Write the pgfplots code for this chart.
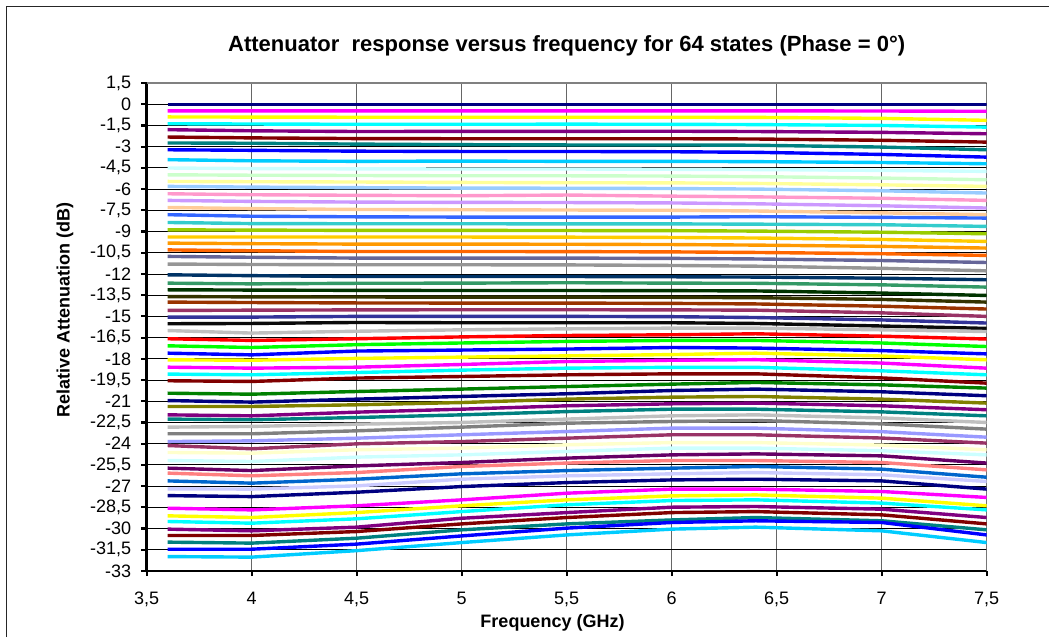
\documentclass[border=0pt]{standalone}
\usepackage{pgfplots}
\pgfplotsset{compat=1.18}
\usepackage{fontspec}
\setmainfont{Liberation Sans}
% Excel 2003 default series colours
\definecolor{c1}{HTML}{000080}\definecolor{c2}{HTML}{FF00FF}\definecolor{c3}{HTML}{FFFF00}\definecolor{c4}{HTML}{00FFFF}
\definecolor{c5}{HTML}{800080}\definecolor{c6}{HTML}{800000}\definecolor{c7}{HTML}{008080}\definecolor{c8}{HTML}{0000FF}
\definecolor{c9}{HTML}{00CCFF}\definecolor{c10}{HTML}{CCFFFF}\definecolor{c11}{HTML}{CCFFCC}\definecolor{c12}{HTML}{FFFF99}
\definecolor{c13}{HTML}{99CCFF}\definecolor{c14}{HTML}{FF99CC}\definecolor{c15}{HTML}{CC99FF}\definecolor{c16}{HTML}{FFCC99}
\definecolor{c17}{HTML}{3366FF}\definecolor{c18}{HTML}{33CCCC}\definecolor{c19}{HTML}{99CC00}\definecolor{c20}{HTML}{FFCC00}
\definecolor{c21}{HTML}{FF9900}\definecolor{c22}{HTML}{FF6600}\definecolor{c23}{HTML}{666699}\definecolor{c24}{HTML}{969696}
\definecolor{c25}{HTML}{003366}\definecolor{c26}{HTML}{339966}\definecolor{c27}{HTML}{003300}\definecolor{c28}{HTML}{333300}
\definecolor{c29}{HTML}{993300}\definecolor{c30}{HTML}{993366}\definecolor{c31}{HTML}{333399}\definecolor{c32}{HTML}{0A0A0A}
\definecolor{c33}{HTML}{C0C0C0}\definecolor{c34}{HTML}{FF0000}\definecolor{c35}{HTML}{00FF00}\definecolor{c36}{HTML}{0000FF}
\definecolor{c37}{HTML}{FFFF00}\definecolor{c38}{HTML}{FF00FF}\definecolor{c39}{HTML}{00FFFF}\definecolor{c40}{HTML}{800000}
\definecolor{c41}{HTML}{008000}\definecolor{c42}{HTML}{000080}\definecolor{c43}{HTML}{808000}\definecolor{c44}{HTML}{800080}
\definecolor{c45}{HTML}{008080}\definecolor{c46}{HTML}{C0C0C0}\definecolor{c47}{HTML}{808080}\definecolor{c48}{HTML}{9999FF}
\definecolor{c49}{HTML}{993366}\definecolor{c50}{HTML}{FFFFCC}\definecolor{c51}{HTML}{CCFFFF}\definecolor{c52}{HTML}{660066}
\definecolor{c53}{HTML}{FF8080}\definecolor{c54}{HTML}{0066CC}\definecolor{c55}{HTML}{CCCCFF}\definecolor{c56}{HTML}{000080}
\definecolor{c57}{HTML}{FF00FF}\definecolor{c58}{HTML}{FFFF00}\definecolor{c59}{HTML}{00FFFF}\definecolor{c60}{HTML}{800080}
\definecolor{c61}{HTML}{800000}\definecolor{c62}{HTML}{008080}\definecolor{c63}{HTML}{0000FF}\definecolor{c64}{HTML}{00CCFF}
% one state: attenuation at 3.6, 4.0, 4.5, 5.0, 5.5, 6.0, 6.4, 7.0, 7.5 GHz
\newcommand\ser[9]{\addplot coordinates {(3.6,#1)(4.0,#2)(4.5,#3)(5.0,#4)(5.5,#5)(6.0,#6)(6.4,#7)(7.0,#8)(7.5,#9)};}
\begin{document}
\begin{tikzpicture}
\useasboundingbox (-73.35pt,-33pt) rectangle (451.15pt,285.5pt);
\draw[line width=0.5pt,black!85] (-69.85pt,-33pt) -- (-69.85pt,282pt) -- (451.15pt,282pt);
\begin{axis}[
  scale only axis, width=420pt, height=244pt,
  xmin=3.5, xmax=7.5, ymin=-33, ymax=1.5,
  xtick={3.5,4,4.5,5,5.5,6,6.5,7,7.5},
  ytick={-33,-31.5,-30,-28.5,-27,-25.5,-24,-22.5,-21,-19.5,-18,-16.5,-15,-13.5,-12,-10.5,-9,-7.5,-6,-4.5,-3,-1.5,0,1.5},
  axis x line*=bottom, axis y line*=left,
  axis line style={black,line width=1.3pt,-},
  tick align=outside, major tick length=2.6pt,
  tick style={black,line width=1.1pt},
  xmajorgrids, ymajorgrids,
  x grid style={black!60,line width=0.7pt},
  y grid style={black,line width=0.45pt},
  /pgf/number format/assume math mode=true,
  /pgf/number format/use comma,
  ticklabel style={font=\fontsize{9}{10.5}\selectfont},
  yticklabel style={anchor=east,xshift=-1.6pt},
  xticklabel style={yshift=-4.2pt},
  every axis plot/.append style={line width=1.7pt, no marks, solid},
  cycle list={{c1},{c2},{c3},{c4},{c5},{c6},{c7},{c8},{c9},{c10},{c11},{c12},{c13},{c14},{c15},{c16},
    {c17},{c18},{c19},{c20},{c21},{c22},{c23},{c24},{c25},{c26},{c27},{c28},{c29},{c30},{c31},{c32},
    {c33},{c34},{c35},{c36},{c37},{c38},{c39},{c40},{c41},{c42},{c43},{c44},{c45},{c46},{c47},{c48},
    {c49},{c50},{c51},{c52},{c53},{c54},{c55},{c56},{c57},{c58},{c59},{c60},{c61},{c62},{c63},{c64}},
]
\draw[black!50,line width=0.6pt] (rel axis cs:0,1) -- (rel axis cs:1,1) -- (rel axis cs:1,0);
\ser{0}{0}{0}{0}{0}{0}{0}{0}{0}
\ser{-0.47}{-0.47}{-0.47}{-0.47}{-0.47}{-0.47}{-0.47}{-0.48}{-0.5}
\ser{-0.9}{-0.91}{-0.92}{-0.92}{-0.92}{-0.92}{-0.93}{-1.0}{-1.14}
\ser{-1.38}{-1.40}{-1.42}{-1.42}{-1.41}{-1.42}{-1.44}{-1.5}{-1.62}
\ser{-1.8}{-1.88}{-1.93}{-1.92}{-1.92}{-1.91}{-1.93}{-1.99}{-2.09}
\ser{-2.32}{-2.38}{-2.43}{-2.44}{-2.44}{-2.44}{-2.46}{-2.55}{-2.68}
\ser{-2.74}{-2.76}{-2.82}{-2.86}{-2.88}{-2.88}{-2.9}{-3.03}{-3.22}
\ser{-3.22}{-3.26}{-3.32}{-3.34}{-3.34}{-3.36}{-3.4}{-3.55}{-3.74}
\ser{-3.92}{-4.0}{-4.04}{-4.02}{-4.04}{-4.04}{-4.06}{-4.12}{-4.21}
\ser{-4.51}{-4.55}{-4.57}{-4.58}{-4.58}{-4.6}{-4.62}{-4.68}{-4.75}
\ser{-4.99}{-5.02}{-5.04}{-5.06}{-5.06}{-5.08}{-5.12}{-5.22}{-5.34}
\ser{-5.46}{-5.48}{-5.5}{-5.53}{-5.55}{-5.56}{-5.6}{-5.7}{-5.81}
\ser{-5.81}{-5.86}{-5.9}{-5.93}{-5.94}{-5.96}{-6.0}{-6.12}{-6.28}
\ser{-6.33}{-6.4}{-6.44}{-6.47}{-6.42}{-6.5}{-6.55}{-6.65}{-6.8}
\ser{-6.8}{-6.87}{-6.92}{-6.94}{-6.95}{-6.98}{-7.04}{-7.18}{-7.34}
\ser{-7.3}{-7.38}{-7.44}{-7.46}{-7.48}{-7.5}{-7.55}{-7.68}{-7.81}
\ser{-7.81}{-7.92}{-7.96}{-7.98}{-7.98}{-7.98}{-7.95}{-8.0}{-8.05}
\ser{-8.36}{-8.44}{-8.45}{-8.45}{-8.46}{-8.46}{-8.48}{-8.52}{-8.64}
\ser{-8.88}{-8.9}{-8.92}{-8.92}{-8.93}{-8.94}{-8.97}{-9.05}{-9.16}
\ser{-9.39}{-9.39}{-9.39}{-9.39}{-9.4}{-9.42}{-9.46}{-9.56}{-9.7}
\ser{-9.82}{-9.86}{-9.89}{-9.89}{-9.9}{-9.92}{-9.96}{-10.05}{-10.17}
\ser{-10.3}{-10.36}{-10.41}{-10.41}{-10.42}{-10.44}{-10.48}{-10.57}{-10.69}
\ser{-10.76}{-10.82}{-10.88}{-10.88}{-10.88}{-10.9}{-10.94}{-11.05}{-11.19}
\ser{-11.3}{-11.33}{-11.35}{-11.35}{-11.36}{-11.4}{-11.45}{-11.6}{-11.78}
\ser{-12.06}{-12.12}{-12.18}{-12.18}{-12.18}{-12.2}{-12.22}{-12.3}{-12.41}
\ser{-12.65}{-12.7}{-12.66}{-12.65}{-12.62}{-12.65}{-12.66}{-12.77}{-12.93}
\ser{-13.12}{-13.14}{-13.16}{-13.17}{-13.17}{-13.18}{-13.2}{-13.35}{-13.52}
\ser{-13.6}{-13.62}{-13.63}{-13.64}{-13.64}{-13.65}{-13.68}{-13.8}{-13.99}
\ser{-13.99}{-14.02}{-14.05}{-14.06}{-14.06}{-14.08}{-14.12}{-14.28}{-14.48}
\ser{-14.58}{-14.56}{-14.54}{-14.53}{-14.53}{-14.54}{-14.56}{-14.75}{-15.0}
\ser{-15.05}{-15.05}{-15.0}{-15.0}{-15.0}{-15.02}{-15.08}{-15.25}{-15.47}
\ser{-15.52}{-15.5}{-15.43}{-15.45}{-15.45}{-15.45}{-15.5}{-15.68}{-15.85}
\ser{-16.0}{-16.18}{-16.05}{-15.95}{-15.88}{-15.83}{-15.83}{-15.95}{-16.07}
\ser{-16.58}{-16.7}{-16.58}{-16.45}{-16.35}{-16.3}{-16.23}{-16.4}{-16.6}
\ser{-17.08}{-17.2}{-17.0}{-16.88}{-16.77}{-16.7}{-16.7}{-16.88}{-17.13}
\ser{-17.6}{-17.72}{-17.45}{-17.38}{-17.31}{-17.2}{-17.24}{-17.42}{-17.65}
\ser{-18.07}{-18.1}{-17.97}{-17.88}{-17.79}{-17.7}{-17.6}{-17.8}{-18.07}
\ser{-18.59}{-18.66}{-18.59}{-18.4}{-18.19}{-18.1}{-18.06}{-18.3}{-18.66}
\ser{-19.08}{-19.13}{-18.97}{-18.8}{-18.66}{-18.6}{-18.6}{-18.85}{-19.13}
\ser{-19.55}{-19.6}{-19.36}{-19.25}{-19.13}{-19.06}{-19.06}{-19.35}{-19.72}
\ser{-20.43}{-20.5}{-20.31}{-20.14}{-19.96}{-19.79}{-19.67}{-19.84}{-20.07}
\ser{-20.95}{-21.06}{-20.85}{-20.66}{-20.47}{-20.24}{-20.14}{-20.33}{-20.61}
\ser{-21.37}{-21.37}{-21.25}{-21.09}{-20.85}{-20.71}{-20.66}{-20.85}{-21.13}
\ser{-21.96}{-22.03}{-21.77}{-21.56}{-21.32}{-21.18}{-21.13}{-21.32}{-21.6}
\ser{-22.26}{-22.31}{-22.15}{-21.96}{-21.73}{-21.56}{-21.56}{-21.75}{-22.03}
\ser{-22.83}{-22.78}{-22.62}{-22.5}{-22.26}{-22.03}{-21.96}{-22.18}{-22.5}
\ser{-23.3}{-23.3}{-23.09}{-22.83}{-22.55}{-22.43}{-22.36}{-22.6}{-22.97}
\ser{-23.85}{-23.8}{-23.61}{-23.37}{-23.14}{-22.9}{-22.9}{-23.15}{-23.54}
\ser{-24.13}{-24.36}{-24.01}{-23.85}{-23.61}{-23.37}{-23.37}{-23.6}{-23.96}
\ser{-24.62}{-24.67}{-24.43}{-24.31}{-24.08}{-23.92}{-23.92}{-24.1}{-24.43}
\ser{-25.19}{-25.26}{-24.95}{-24.79}{-24.55}{-24.31}{-24.31}{-24.5}{-24.79}
\ser{-25.73}{-25.9}{-25.57}{-25.33}{-25.02}{-24.79}{-24.72}{-24.86}{-25.37}
\ser{-26.08}{-26.27}{-26.04}{-25.61}{-25.37}{-25.19}{-25.19}{-25.33}{-25.85}
\ser{-26.63}{-26.79}{-26.51}{-26.13}{-25.9}{-25.73}{-25.61}{-25.8}{-26.37}
\ser{-27.19}{-27.21}{-26.98}{-26.51}{-26.27}{-26.13}{-26.04}{-26.2}{-26.67}
\ser{-27.67}{-27.74}{-27.43}{-27.03}{-26.75}{-26.56}{-26.51}{-26.63}{-27.21}
\ser{-28.56}{-28.68}{-28.39}{-27.97}{-27.5}{-27.21}{-27.21}{-27.38}{-27.8}
\ser{-29.1}{-29.22}{-28.87}{-28.39}{-27.97}{-27.69}{-27.62}{-27.85}{-28.39}
\ser{-29.5}{-29.62}{-29.31}{-28.8}{-28.32}{-28.02}{-27.97}{-28.2}{-28.68}
\ser{-30.04}{-30.16}{-29.9}{-29.27}{-28.87}{-28.49}{-28.44}{-28.63}{-29.22}
\ser{-30.49}{-30.49}{-30.21}{-29.67}{-29.22}{-28.87}{-28.8}{-29.03}{-29.67}
\ser{-30.96}{-31.03}{-30.68}{-30.09}{-29.67}{-29.39}{-29.22}{-29.45}{-30.09}
\ser{-31.46}{-31.46}{-31.1}{-30.52}{-29.97}{-29.57}{-29.45}{-29.57}{-30.45}
\ser{-31.98}{-32.02}{-31.56}{-30.99}{-30.45}{-30.04}{-29.9}{-30.16}{-30.99}
\end{axis}
\node[font=\bfseries\fontsize{11}{13}\selectfont] at (210pt,262.5pt) {Attenuator\ \ response versus frequency for 64 states (Phase = 0°)};
\node[font=\bfseries\fontsize{9}{11}\selectfont] at (202.9pt,-26pt) {Frequency (GHz)};
\node[font=\bfseries\fontsize{9}{11}\selectfont,rotate=90] at (-40.9pt,130.5pt) {Relative Attenuation (dB)};
\end{tikzpicture}
\end{document}
